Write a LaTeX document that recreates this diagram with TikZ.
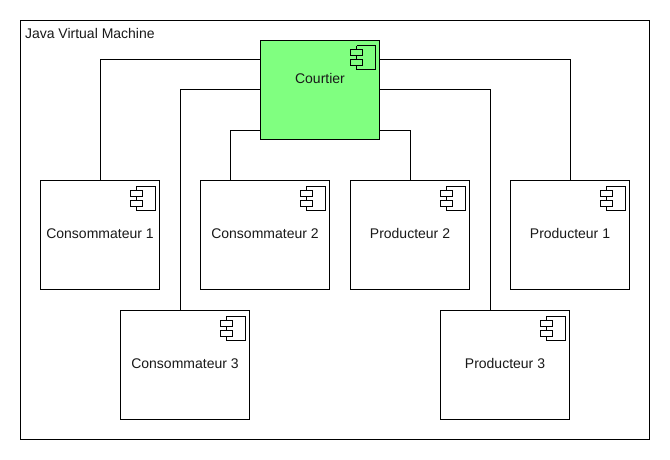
\documentclass[tikz,border=0pt]{standalone}
\usepackage{fontspec}
\setmainfont{Liberation Sans}
\tikzset{
  x=1pt,y=-1pt,
  every path/.style={line width=1pt,line join=miter},
  lab/.style={font=\fontsize{14}{16}\selectfont,text=black!90},
  frame/.style={draw=black,fill=white,inner sep=0pt,outer sep=0pt},
  comp/.style={frame,minimum width=#1,minimum height=109pt,lab},
  comp/.default=119pt,
  wire/.style={draw=black},
  iconpart/.style={draw=black}
}
\definecolor{courtiergreen}{RGB}{128,255,128}
\newcommand{\compicon}[1]{%
  \draw[iconpart] ([shift={(-23,5.5)}]#1.north east) -- +(19,0) -- +(19,24) -- +(0,24) -- +(0,20);
  \draw[iconpart] ([shift={(-23,9.5)}]#1.north east) -- +(0,-4);
  \draw[iconpart] ([shift={(-23,15.5)}]#1.north east) -- +(0,4);
  \draw[iconpart] ([shift={(-29,9.5)}]#1.north east) rectangle +(12,6);
  \draw[iconpart] ([shift={(-29,19.5)}]#1.north east) rectangle +(12,6);
}
\newcommand{\boxtext}[2]{\raisebox{#1}{#2}}
\begin{document}
\begin{tikzpicture}
\useasboundingbox (0,0) rectangle (670,460);
\node[frame,minimum width=629pt,minimum height=419pt,anchor=north west] (jvm) at (20.5,20.5) {};
\node[lab,anchor=base west,inner sep=0pt] (jvmlabel) at (24.5,38.5) {Java Virtual Machine};

\node[comp=119pt,minimum height=99pt,fill=courtiergreen,anchor=north west] (courtier) at (260.5,40.5) {\boxtext{23pt}{Courtier}};
\node[comp=119pt,anchor=north west] (c1) at (40.5,180.5) {\boxtext{3pt}{Consommateur 1}};
\node[comp=129pt,anchor=north west] (c2) at (200.5,180.5) {\boxtext{3pt}{Consommateur 2}};
\node[comp=119pt,anchor=north west] (p2) at (350.5,180.5) {\boxtext{3pt}{Producteur 2}};
\node[comp=119pt,anchor=north west] (p1) at (510.5,180.5) {\boxtext{3pt}{Producteur 1}};
\node[comp=129pt,anchor=north west] (c3) at (120.5,310.5) {\boxtext{3pt}{Consommateur 3}};
\node[comp=129pt,anchor=north west] (p3) at (440.5,310.5) {\boxtext{3pt}{Producteur 3}};

\draw[wire] (c1.north) |- ([yshift=30pt]courtier.west);
\draw[wire] ([xshift=-4.5pt]c3.north) |- (courtier.west);
\draw[wire] ([xshift=-35pt]c2.north) |- ([yshift=-40pt]courtier.west);
\draw[wire] (p2.north) |- ([yshift=-40pt]courtier.east);
\draw[wire] (p1.north) |- ([yshift=30pt]courtier.east);
\draw[wire] ([xshift=-15pt]p3.north) |- (courtier.east);

\foreach \n in {courtier,c1,c2,p2,p1,c3,p3} {\compicon{\n}}
\end{tikzpicture}
\end{document}
